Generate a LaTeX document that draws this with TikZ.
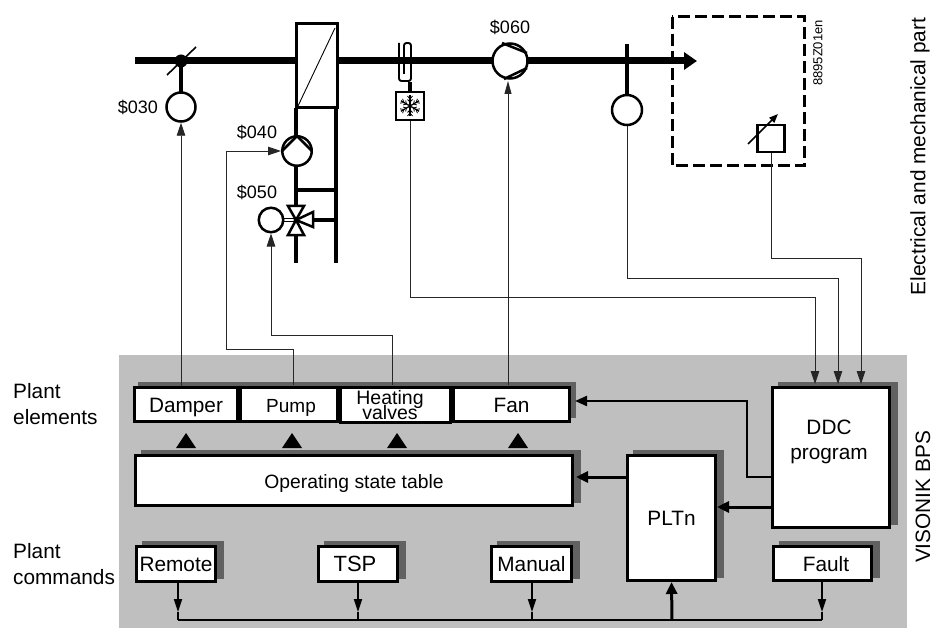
\documentclass[tikz,border=0pt]{standalone}
\usepackage{fontspec}
\setmainfont{Liberation Sans}
\usetikzlibrary{arrows.meta,shadows}
\definecolor{panelgray}{gray}{0.75}
\definecolor{shadegray}{gray}{0.38}

\begin{document}
\begin{tikzpicture}[x=1pt, y=-1pt, font=\fontsize{20.8}{25}\selectfont,
                    duct/.style={line width=7pt},
                    pipe/.style={line width=3.3pt},
                    sym/.style={line width=2.5pt, line join=miter},
                    sig/.style={line width=0.9pt, black!85, -{Triangle[length=13pt,width=8.5pt]}},
                    link/.style={line width=2.2pt, -{Triangle[length=12pt,width=10pt]}},
                    heavy/.style={line width=3pt, -{Triangle[length=12pt,width=11pt]}},
                    drop/.style={line width=1.8pt, -{Triangle[length=13pt,width=8pt]}},
                    act/.style={circle, draw, fill=white, line width=2.5pt, inner sep=0pt},
                    blk/.style={draw, fill=white, line width=3pt, inner sep=0pt, align=center, text height=15pt, text depth=0pt},
                    shade/.style={blk, copy shadow={shadow xshift=6.5pt, shadow yshift=4.5pt, fill=shadegray, draw=shadegray}},
                    tag/.style={inner sep=0pt},
                    small/.style={font=\fontsize{18}{20}\selectfont}]
  \useasboundingbox (0,0) rectangle (933,628);
  \fill[panelgray] (119,355) rectangle (907,628);

  % air duct
  \draw[duct, -{Triangle[length=13pt,width=17pt]}] (135,61) -- (697,61);
  \draw[pipe] (181,61) -- (181,92);
  \fill (181,61) circle (6.5);
  \draw[line width=1.6pt] (167,75) -- (196,47);
  \draw[pipe] (627,44) -- (627,94);
  \draw[pipe] (410,82) -- (410,91);

  % heating coil and its circuit
  \node[draw, fill=white, line width=3pt, minimum width=41pt, minimum height=84pt, inner sep=0pt] (coil) at (316.5,66) {};
  \draw[line width=0.9pt] (298,106) -- (335,28);
  \draw[pipe] (296,108) -- (296,263);
  \draw[pipe] (336,108) -- (336,263);
  \draw[pipe] (296,190) -- (336,190);
  \draw[pipe] (313,220) -- (336,220);

  % pump
  \node[act, minimum size=29.5pt] (pump040) at (297,151) {};
  \draw[sym] (282,151) -- (297,136) -- (312,151);

  % mixing valve
  \coordinate (valve) at (296,220);
  \draw[sym, fill=white] (valve) -- (288,206) -- (304,206) -- cycle;
  \draw[sym, fill=white] (valve) -- (288,235) -- (304,235) -- cycle;
  \draw[sym, fill=white] (valve) -- (313,212) -- (313,227) -- cycle;
  \draw[line width=0.7pt] (284,218.5) -- (296,218.5) (284,221.5) -- (296,221.5);
  \node[act, minimum size=24.5pt] (act050) at (271,220) {};

  % damper actuator and sensor
  \node[act, minimum size=29pt] (act030) at (181,107) {};
  \node[act, minimum size=30pt] (sens) at (627,110) {};

  % fan
  \node[act, minimum size=35pt] (fan060) at (510,61) {};
  \draw[sym] (502,43) -- (527,53);
  \draw[sym] (504,79) -- (527,68);

  % frost coil
  \draw[line width=1.9pt, rounded corners=2.5pt] (399,43) -- (399,81) -- (411,81) -- (411,43) -- (404,43) -- (404,74);
  \node[draw, fill=white, line width=2.2pt, minimum size=28pt, inner sep=0pt] (frost) at (410,106) {};
  \begin{scope}[shift={(410,106)}]
    \foreach \a in {30,90,150} {
      \draw[line width=1.3pt] (\a:10.5) -- (\a+180:10.5);
    }
    \foreach \a in {30,90,150,210,270,330} {
      \draw[line width=0.8pt, rotate=\a] (7,0) -- (10,2.5) (7,0) -- (10,-2.5) (4,0) -- (6.5,2.5) (4,0) -- (6.5,-2.5);
    }
  \end{scope}

  % room
  \draw[line width=3pt, dash pattern=on 12pt off 5pt] (672,17) rectangle (804,166);
  \node[draw, fill=white, line width=2.5pt, minimum width=27pt, minimum height=27pt, inner sep=0pt] (room) at (771,138.5) {};
  \draw[line width=1.6pt, -{Triangle[length=9pt,width=7pt]}] (748,144) -- (778,114);

  % plant elements
  \fill[shadegray] (138,382) rectangle (576,418);
  \node[blk, minimum width=103pt, minimum height=34pt] (damper) at (186,404.5) {Damper};
  \node[blk, minimum width=97pt, minimum height=34pt, font=\fontsize{19}{20}\selectfont] (pumpel) at (288.5,404.5) {\hspace*{5pt}Pump};
  \node[blk, minimum width=110pt, minimum height=35pt] (valves) at (395.5,405) {};
  \node[tag, align=center, font=\fontsize{19.5}{15}\selectfont] (valvestext) at (390,405) {Heating\\[-4pt]valves};
  \node[blk, minimum width=116pt, minimum height=34pt] (fanel) at (511.5,404.5) {Fan};
  \foreach \x in {186,292,397,518} {
    \fill (\x,433) -- (\x+10,448) -- (\x-10,448) -- cycle;
  }
  \node[shade, minimum width=437pt, minimum height=50pt, font=\fontsize{19.3}{20}\selectfont] (table) at (354,480.5) {Operating state table};

  % plant commands
  \node[shade, minimum width=79pt, minimum height=35pt] (remote) at (176,564) {Remote};
  \node[shade, minimum width=79pt, minimum height=35pt, font=\fontsize{22}{24}\selectfont] (tsp) at (358,564) {TSP\hspace*{6pt}};
  \node[shade, minimum width=80pt, minimum height=35pt] (manual) at (531.5,564) {Manual};
  \node[shade, minimum width=98pt, minimum height=34pt] (fault) at (822.5,563.5) {\hspace*{7pt}Fault};
  \node[shade, minimum width=88pt, minimum height=125pt] (pltn) at (671.5,518) {PLTn};
  \node[shade, minimum width=117pt, minimum height=140pt] (ddc) at (831,457.5) {};
  \node[tag, align=center] (ddctext) at (829,442) {DDC\\program};

  % signals up to the plant
  \draw[sig] (damper.north -| act030) -- (act030);
  \draw[sig] (293,385) -- (293,349) -- (226,349) -- (226,151) -- (pump040);
  \draw[sig] (392,385) -- (392,335) -- (271,335) -- (act050);
  \draw[sig, -{Triangle[length=13pt,width=7pt]}] (508,385) -- (508,81);
  % signals into the DDC program
  \draw[sig] (frost.south) -- (410,297) -- (815,297) -- (815,384);
  \draw[sig] (sens.south) -- (627,278) -- (838,278) -- (838,384);
  \draw[sig] (room.south) -- (771,258) -- (861,258) -- (861,384);

  \draw[link] (ddc.west |- 0,477) -- (747,477) -- (747,401) -- (575,401);
  \draw[heavy] (ddc.west |- 0,507) -- (717,507);
  \draw[heavy] (pltn.west |- 0,477) -- (576,477);

  % bus
  \draw[line width=2pt] (178,620) -- (822,620);
  \foreach \x/\b in {178/remote,358/tsp,532/manual,822/fault} {
    \draw[drop] (\b.south -| \x,0) -- (\x,612);
    \draw[line width=1.8pt] (\x,612) -- (\x,620);
  }
  \draw[heavy] (672,620) -- (pltn.south);

  % labels
  \node[tag, small, anchor=east] (l030) at (158,107) {\$030};
  \node[tag, small] (l040) at (257,132) {\$040};
  \node[tag, small] (l050) at (257,192) {\$050};
  \node[tag, small] (l060) at (510,27) {\$060};
  \node[tag, anchor=west, align=left, font=\fontsize{20.8}{26}\selectfont] (elements) at (13,404) {Plant\\elements};
  \node[tag, anchor=west, align=left, font=\fontsize{20.8}{26}\selectfont] (commands) at (13,564) {Plant\\commands};
  \node[tag, rotate=90, font=\fontsize{13}{14}\selectfont] (code) at (818,53) {8895Z01en};
  \node[tag, rotate=90] (part) at (920,156.5) {Electrical and mechanical part};
  \node[tag, rotate=90] (bps) at (923,497) {VISONIK BPS};
\end{tikzpicture}
\end{document}
